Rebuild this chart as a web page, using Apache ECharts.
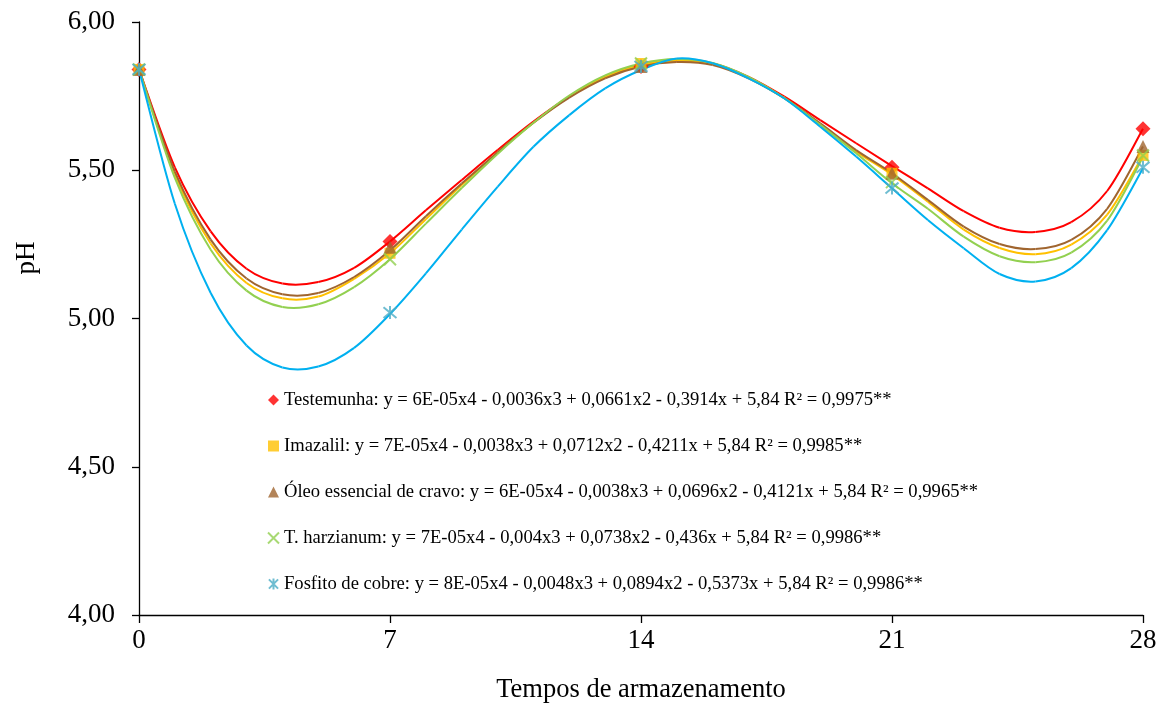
<!DOCTYPE html>
<html>
<head>
<meta charset="utf-8">
<script src="https://cdn.jsdelivr.net/npm/echarts@6/dist/echarts.min.js"></script>
<style>
  html, body { margin: 0; padding: 0; background: #fff; }
  #main { width: 1164px; height: 706px; }
</style>
</head>
<body>
<div id="main"></div>
<script>
// tempos de armazenamento (dias) e valores medidos de pH
var dias = [0, 7, 14, 21, 28];
var testemunha = [5.84, 5.26, 5.85, 5.51, 5.64];
var imazalil = [5.84, 5.22, 5.86, 5.49, 5.55];
var oleoCravo = [5.84, 5.24, 5.85, 5.49, 5.58];
var harzianum = [5.84, 5.20, 5.86, 5.46, 5.55];
var fosfito = [5.84, 5.02, 5.85, 5.44, 5.51];

// linhas de tendencia, um ponto por dia
var diasCurva = [0, 1, 2, 3, 4, 5, 6, 7, 8, 9, 10, 11, 12, 13, 14, 15, 16, 17, 18, 19, 20, 21, 22, 23, 24, 25, 26, 27, 28];
var curvaTestemunha = [5.84, 5.51, 5.294, 5.168, 5.118, 5.123, 5.171, 5.26, 5.365, 5.467, 5.568, 5.664, 5.748, 5.815, 5.855, 5.87, 5.86, 5.815, 5.748, 5.669, 5.591, 5.514, 5.439, 5.362, 5.306, 5.292, 5.325, 5.43, 5.64];
var curvaImazalil = [5.84, 5.485, 5.253, 5.12, 5.068, 5.074, 5.134, 5.22, 5.335, 5.45, 5.56, 5.66, 5.748, 5.815, 5.855, 5.87, 5.86, 5.812, 5.743, 5.653, 5.563, 5.485, 5.394, 5.30, 5.238, 5.217, 5.249, 5.35, 5.55];
var curvaOleo = [5.84, 5.495, 5.266, 5.135, 5.082, 5.086, 5.14, 5.23, 5.345, 5.455, 5.56, 5.66, 5.745, 5.81, 5.85, 5.865, 5.855, 5.81, 5.743, 5.658, 5.568, 5.49, 5.40, 5.31, 5.251, 5.234, 5.265, 5.37, 5.58];
var curvaHarzianum = [5.84, 5.474, 5.232, 5.094, 5.039, 5.048, 5.106, 5.20, 5.32, 5.44, 5.555, 5.66, 5.752, 5.82, 5.86, 5.875, 5.862, 5.815, 5.743, 5.653, 5.557, 5.456, 5.37, 5.276, 5.21, 5.19, 5.222, 5.33, 5.545];
var curvaFosfito = [5.84, 5.387, 5.086, 4.909, 4.835, 4.838, 4.901, 5.015, 5.152, 5.30, 5.444, 5.579, 5.686, 5.776, 5.838, 5.877, 5.861, 5.81, 5.742, 5.647, 5.546, 5.439, 5.332, 5.237, 5.15, 5.125, 5.17, 5.298, 5.507];

var nomes = ['Testemunha', 'Imazalil', 'Óleo essencial de cravo', 'T. harzianum', 'Fosfito de cobre'];
var equacoes = [
    'y = 6E-05x4 - 0,0036x3 + 0,0661x2 - 0,3914x + 5,84 R² = 0,9975**',
    'y = 7E-05x4 - 0,0038x3 + 0,0712x2 - 0,4211x + 5,84 R² = 0,9985**',
    'y = 6E-05x4 - 0,0038x3 + 0,0696x2 - 0,4121x + 5,84 R² = 0,9965**',
    'y = 7E-05x4 - 0,004x3 + 0,0738x2 - 0,436x + 5,84 R² = 0,9986**',
    'y = 8E-05x4 - 0,0048x3 + 0,0894x2 - 0,5373x + 5,84 R² = 0,9986**'
];
var ticksX = [0, 7, 14, 21, 28];

var fonte = '"Liberation Serif", "Times New Roman", serif';
var coresLinha = ['#FF0000', '#FFC000', '#A0652F', '#92D050', '#00B0F0'];
var coresMarca = ['#FF0000', '#FFC000', '#A0652F', '#92D050', '#4BACC6'];
var simbolos = ['diamond', 'rect', 'triangle', 'path://M0,0L10,10M10,0L0,10', 'path://M0,0L10,10M10,0L0,10M5,-1L5,11'];
var tamanhos = [15, 11, 13, 12, 13];
var medidas = [testemunha, imazalil, oleoCravo, harzianum, fosfito];
var curvas = [curvaTestemunha, curvaImazalil, curvaOleo, curvaHarzianum, curvaFosfito];

function pares(xs, ys) {
    return xs.map(function (x, i) { return [x, ys[i]]; });
}

// trecho de curva suave (catmull-rom -> bezier) entre o ponto i e i+1
function trecho(ys, cor) {
    return function (params, api) {
        var i = params.dataIndex;
        var n = ys.length;
        if (i >= n - 1) return null;
        var p = function (k) {
            k = Math.max(0, Math.min(n - 1, k));
            return api.coord([diasCurva[k], ys[k]]);
        };
        var p0 = p(i - 1), p1 = p(i), p2 = p(i + 1), p3 = p(i + 2);
        return {
            type: 'bezierCurve',
            shape: {
                x1: p1[0], y1: p1[1],
                x2: p2[0], y2: p2[1],
                cpx1: p1[0] + (p2[0] - p0[0]) / 6,
                cpy1: p1[1] + (p2[1] - p0[1]) / 6,
                cpx2: p2[0] - (p3[0] - p1[0]) / 6,
                cpy2: p2[1] - (p3[1] - p1[1]) / 6
            },
            style: { stroke: cor, lineWidth: 2, fill: null }
        };
    };
}

var series = [];
curvas.forEach(function (c, i) {
    series.push({
        name: 'tendencia ' + i,
        type: 'custom',
        data: pares(diasCurva, c),
        encode: { x: 0, y: 1 },
        renderItem: trecho(c, coresLinha[i]),
        z: 2,
        silent: true
    });
});
medidas.forEach(function (m, i) {
    var vazado = i >= 3;
    series.push({
        name: nomes[i],
        type: 'scatter',
        data: pares(dias, m),
        symbol: simbolos[i],
        symbolSize: tamanhos[i],
        itemStyle: vazado
            ? { color: 'rgba(0,0,0,0)', borderColor: coresMarca[i], borderWidth: 2 }
            : { color: coresMarca[i] },
        z: 3
    });
});

var myChart = echarts.init(document.getElementById('main'));
myChart.setOption({
    animation: false,
    backgroundColor: '#fff',
    grid: { left: 139, right: 21, top: 22, bottom: 91, outerBoundsMode: 'none' },
    xAxis: {
        type: 'value',
        min: 0,
        max: 28,
        interval: 7,
        name: 'Tempos de armazenamento',
        nameLocation: 'middle',
        nameGap: 62,
        nameTextStyle: { fontFamily: fonte, fontSize: 26.5, color: '#000' },
        axisLine: { lineStyle: { color: '#000', width: 1.3 } },
        axisTick: { show: true, length: 8, lineStyle: { color: '#000', width: 1.3 } },
        axisLabel: {
            margin: 12,
            fontFamily: fonte, fontSize: 27, color: '#000',
            formatter: function (v) { return ticksX.indexOf(v) >= 0 ? String(v) : ''; }
        },
        splitLine: { show: false }
    },
    yAxis: {
        type: 'value',
        min: 4,
        max: 6,
        interval: 0.5,
        axisLine: { show: true, lineStyle: { color: '#000', width: 1.3 } },
        axisTick: { show: true, length: 7, lineStyle: { color: '#000', width: 1.3 } },
        axisLabel: {
            margin: 24,
            fontFamily: fonte, fontSize: 27, color: '#000',
            formatter: function (v) { return v.toFixed(2).replace('.', ','); }
        },
        splitLine: { show: false }
    },
    legend: {
        data: nomes,
        orient: 'vertical',
        left: 262,
        top: 385,
        itemGap: 26,
        itemWidth: 11,
        itemHeight: 11,
        textStyle: { fontFamily: fonte, fontSize: 18.6, color: '#000', lineHeight: 20 },
        formatter: function (name) {
            return name + ': ' + equacoes[nomes.indexOf(name)];
        }
    },
    graphic: [{
        type: 'text',
        x: 27,
        y: 258,
        rotation: Math.PI / 2,
        style: {
            text: 'pH',
            font: '27px ' + fonte,
            fill: '#000',
            align: 'center',
            verticalAlign: 'middle'
        }
    }],
    series: series
});
</script>
</body>
</html>
